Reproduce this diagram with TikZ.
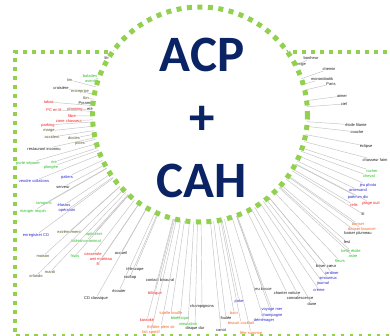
\documentclass[tikz,border=0pt]{standalone}
\usepackage{fontspec}
\setmainfont{Liberation Sans}
\newfontfamily\titlefont{Carlito}
\usetikzlibrary{calc}
\definecolor{dotgreen}{RGB}{146,208,80}
\definecolor{navy}{RGB}{10,35,100}
\definecolor{cred}{RGB}{240,30,30}
\definecolor{corange}{RGB}{250,100,30}
\definecolor{cgreen}{RGB}{40,190,40}
\definecolor{cblue}{RGB}{40,40,210}
\definecolor{colive}{RGB}{90,85,40}
\definecolor{cblack}{RGB}{30,30,30}
\definecolor{leafgrey}{RGB}{195,195,195}
\tikzset{
  lab/.style={inner sep=0.3pt, font=\fontsize{4}{4.2}\selectfont},
  lr/.style={lab, text=cred},
  lo/.style={lab, text=corange},
  lg/.style={lab, text=cgreen},
  lb/.style={lab, text=cblue},
  lv/.style={lab, text=colive},
  lk/.style={lab, text=cblack},
  leaf/.style={draw=leafgrey, line width=0.45pt},
  rectdots/.style={draw=dotgreen, line width=3.6pt, dash pattern=on 3.6pt off 5.4pt},
  circdots/.style={draw=dotgreen, fill=white, line width=5pt, dash pattern=on 5pt off 5.5pt},
  title/.style={inner sep=0pt, text=navy, font=\titlefont\bfseries\fontsize{51}{51}\selectfont}
}
\begin{document}
\begin{tikzpicture}[x=1pt, y=-1pt]
\useasboundingbox (0,0) rectangle (390,335);
\clip (0,0) rectangle (390,335);
\fill[white] (0,0) rectangle (390,335);
% frame
\draw[rectdots] (396,52) -- (15,52) -- (15,335.5) -- (396,335.5);
\coordinate (C) at (200,114.5);
% labels
\node[lk] (n1) at (107,58) {lits};
\node[lg] (n2) at (90,76) {balades};
\node[lg] (n3) at (93,81) {aventure};
\node[lv] (n4) at (70,80) {tim.};
\node[lk] (n5) at (61,88) {croisière};
\node[lv] (n6) at (80,91) {entreprise};
\node[lv] (n7) at (86,98) {tbn};
\node[lk] (n8) at (87,103) {Pyramide};
\node[lk] (n9) at (90,109) {eté};
\node[lr] (n10) at (49,102) {tabac};
\node[lr] (n11) at (54,110) {PC en lit};
\node[lr] (n12) at (75,109) {planning};
\node[lr] (n13) at (72,116) {fibre};
\node[lr] (n14) at (69,121) {zone chasseur};
\node[lr] (n15) at (48,125) {parking};
\node[lv] (n16) at (49,131) {marge};
\node[lv] (n17) at (52,137) {accident};
\node[lv] (n18) at (74,138) {doctes};
\node[lv] (n19) at (80,143) {poles};
\node[lk] (n20) at (44,149) {restaurant inconnu};
\node[lg] (n21) at (28,163) {porte séparer};
\node[lg] (n22) at (54,162) {rire};
\node[lg] (n23) at (51,167) {plongée};
\node[lb] (n24) at (67,177) {paliers};
\node[lb] (n25) at (34,181) {vendre collations};
\node[lk] (n26) at (63,187) {serveur};
\node[lg] (n27) at (44,204) {tampons};
\node[lg] (n28) at (33,211) {manger requin};
\node[lb] (n29) at (64,205) {élastos};
\node[lb] (n30) at (67,210) {opération};
\node[lb] (n31) at (36,235) {enregistrer CD};
\node[lv] (n32) at (69,232) {extrêmement};
\node[lg] (n33) at (94,234) {optimiser};
\node[lg] (n34) at (86,241) {tolérance animal};
\node[lv] (n35) at (43,256) {maison};
\node[lg] (n36) at (75,256) {fruits};
\node[lr] (n37) at (93,254) {casserole};
\node[lr] (n38) at (101,259) {ami marteau};
\node[lr] (n39) at (98,264) {fil};
\node[lk] (n40) at (121,253) {accueil};
\node[lv] (n41) at (50,272) {mardi};
\node[lv] (n42) at (36,276) {orlando};
\node[lk] (n43) at (96,298) {CD classique};
\node[lk] (n44) at (135,269) {télescope};
\node[lk] (n45) at (130,277) {rooftop};
\node[lk] (n46) at (119,291) {écouter};
\node[lk] (n47) at (160,280) {contact binaural};
\node[lr] (n48) at (155,293) {bilingue};
\node[lo] (n49) at (171,313) {tutelle bouffe};
\node[lg] (n50) at (180,318) {bioéthique};
\node[lg] (n51) at (188,324) {simulation};
\node[lr] (n52) at (147,320) {karaoké};
\node[lo] (n53) at (161,327) {théâtre plein air};
\node[lo] (n54) at (151,332) {fait sportif};
\node[lk] (n55) at (195,328) {disque dur};
\node[lk] (n56) at (202,306) {champignons};
\node[lk] (n57) at (221,330) {canot};
\node[lo] (n58) at (234,313) {bain};
\node[lk] (n59) at (226,318) {foulée};
\node[lo] (n60) at (241,323) {biscuit cocktail};
\node[lo] (n61) at (251,333) {fête surprise};
\node[lb] (n62) at (239,301) {poke};
\node[lb] (n63) at (264,320) {déménager};
\node[lb] (n64) at (272,315) {champagne};
\node[lb] (n65) at (272,310) {voyage mer};
\node[lk] (n66) at (263,289) {jeu bocce};
\node[lk] (n67) at (287,293) {chanter voiture};
\node[lk] (n68) at (300,298) {convalescence};
\node[lk] (n69) at (312,304) {dune};
\node[lb] (n70) at (319,290) {crème};
\node[lb] (n71) at (323,283) {journal};
\node[lb] (n72) at (328,278) {amoureux};
\node[lb] (n73) at (332,273) {jardiner};
\node[lk] (n74) at (326,266) {briser cœur};
\node[lg] (n75) at (340,261) {fleurs};
\node[lg] (n76) at (353,256) {astre};
\node[lg] (n77) at (351,251) {belle étoile};
\node[lk] (n78) at (347,242) {fest};
\node[lk] (n79) at (358,233) {baiser plumeau};
\node[lo] (n80) at (362,229) {danser bouncer};
\node[lo] (n81) at (358,224) {danser};
\node[lk] (n82) at (363,214) {lit};
\node[lr] (n83) at (354,205) {relis};
\node[lr] (n84) at (371,203) {plage nuit};
\node[lb] (n85) at (358,197) {poèmes dix};
\node[lb] (n86) at (358,190) {antersand};
\node[lb] (n87) at (368,185) {jeu photo};
\node[lg] (n88) at (372,171) {rocher};
\node[lg] (n89) at (369,176) {cheval};
\node[lk] (n90) at (375,160) {chasseur faim};
\node[lk] (n91) at (366,146) {éclipse};
\node[lk] (n92) at (357,132) {couche};
\node[lk] (n93) at (356,125) {étoile filante};
\node[lk] (n94) at (344,104) {ciel};
\node[lk] (n95) at (342,96) {aimer};
\node[lk] (n96) at (331,84) {Paris};
\node[lk] (n97) at (322,79) {monorobotik};
\node[lk] (n98) at (329,69) {chemin};
\node[lk] (n99) at (301,64) {neige};
\node[lk] (n100) at (311,58) {bonheur};
% connectors
\foreach \i in {1,...,100} {
  \draw[leaf] (C) -- (n\i);
}
% circle with title
\draw[circdots] (C) circle (107.5);
\node[title, anchor=base] (acp) at (202,71) {ACP};
\node[title] (plus) at (202,120) {+};
\node[title, anchor=base] (cah) at (202,197) {CAH};
\end{tikzpicture}
\end{document}
